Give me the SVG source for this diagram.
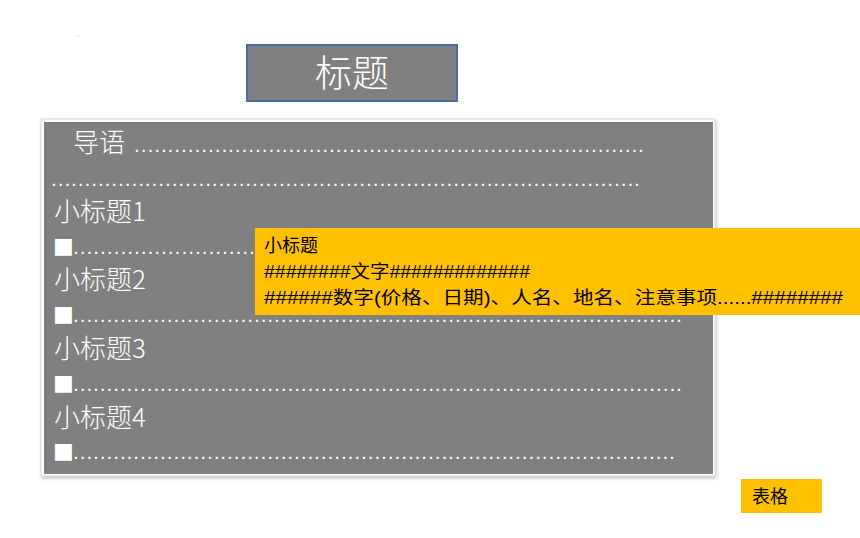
<svg xmlns="http://www.w3.org/2000/svg" width="860" height="538" viewBox="0 0 860 538">
<style>
.cjk{font-family:"Noto Sans CJK SC","Liberation Sans",sans-serif;font-weight:300;}
.wt{fill:#ffffff;}
.sub{font-family:"Noto Sans CJK SC","Liberation Sans",sans-serif;font-weight:300;font-size:26px;fill:#ffffff;}
.dots{font-family:"Liberation Sans",sans-serif;font-size:14px;font-weight:bold;fill:#ffffff;}
.bul{font-family:"DejaVu Sans",sans-serif;font-size:22px;fill:#ffffff;}
.yt{font-family:"Liberation Sans","Noto Sans CJK SC",sans-serif;font-size:18px;fill:#000000;}
</style>
<defs>
<filter id="sh" x="-5%" y="-5%" width="110%" height="110%">
<feDropShadow dx="1" dy="2" stdDeviation="1.5" flood-color="#000000" flood-opacity="0.25"/>
</filter>
</defs>
<rect width="860" height="538" fill="#ffffff"/>
<text x="77" y="36" font-family="Liberation Sans,sans-serif" font-size="8" fill="#808080">.</text>
<g id="title">
<rect x="247" y="45" width="210" height="56" fill="#808080" stroke="#41719c" stroke-width="2"/>
<text x="352" y="87" class="cjk wt" font-size="37" text-anchor="middle">标题</text>
</g>
<g id="body">
<rect x="41" y="119" width="674" height="357" fill="#ffffff" stroke="#d8d8d8" stroke-width="1" filter="url(#sh)"/>
<rect x="44" y="122" width="669" height="352" fill="#808080"/>
<text x="73" y="152" class="cjk wt" font-size="26">导语</text>
<text x="135" y="152" class="dots" textLength="508" lengthAdjust="spacing">............................................................................</text>
<text x="52" y="186" class="dots" textLength="587" lengthAdjust="spacing">........................................................................................</text>
<text x="54" y="221" class="sub">小标题1</text>
<text x="53" y="253" class="bul">■</text>
<text x="74" y="254" class="dots" textLength="180" lengthAdjust="spacing">...........................</text>
<text x="54" y="289" class="sub">小标题2</text>
<text x="53" y="321" class="bul">■</text>
<text x="74" y="322" class="dots" textLength="607" lengthAdjust="spacing">...........................................................................................</text>
<text x="54" y="358" class="sub">小标题3</text>
<text x="53" y="390" class="bul">■</text>
<text x="74" y="391" class="dots" textLength="607" lengthAdjust="spacing">...........................................................................................</text>
<text x="54" y="427" class="sub">小标题4</text>
<text x="53" y="458" class="bul">■</text>
<text x="74" y="459" class="dots" textLength="600" lengthAdjust="spacing">..........................................................................................</text>
</g>
<g id="note">
<rect x="255" y="228" width="605" height="87" fill="#ffc000"/>
<text x="264" y="252" class="yt">小标题</text>
<text x="264" y="278" class="yt" textLength="266" lengthAdjust="spacingAndGlyphs">########文字#############</text>
<text x="264" y="304" class="yt" textLength="579" lengthAdjust="spacingAndGlyphs">######数字(价格、日期)、人名、地名、注意事项......########</text>
</g>
<g id="table">
<rect x="741" y="479" width="81" height="34" fill="#ffc000"/>
<text x="752" y="503" class="yt" font-size="20">表格</text>
</g>
<g id="connectors"></g>
</svg>
